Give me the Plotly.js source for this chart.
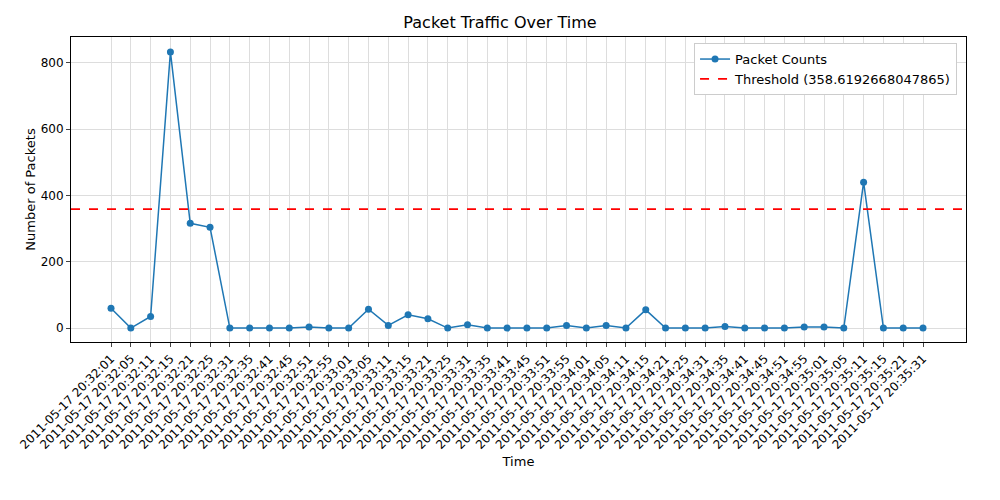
<!DOCTYPE html>
<html>
<head>
<script src="https://cdn.plot.ly/plotly-3.0.1.min.js"></script>
<style>body{margin:0}</style>
</head>
<body>
<div id="plot" style="width:1000px;height:500px"></div>
<script>
// Tick labels (one per point)
var times = ["20:32:01","20:32:05","20:32:11","20:32:15","20:32:21","20:32:25","20:32:31","20:32:35",
  "20:32:41","20:32:45","20:32:51","20:32:55","20:33:01","20:33:05","20:33:11","20:33:15","20:33:21",
  "20:33:25","20:33:31","20:33:35","20:33:41","20:33:45","20:33:51","20:33:55","20:34:01","20:34:05",
  "20:34:11","20:34:15","20:34:21","20:34:25","20:34:31","20:34:35","20:34:41","20:34:45","20:34:51",
  "20:34:55","20:35:01","20:35:05","20:35:11","20:35:15","20:35:21","20:35:31"].map(t => "2011-05-17 " + t);

// Packet counts
var counts = [60, 0, 35, 833, 316, 304, 0, 0, 0, 0, 3, 0, 0, 57, 8, 40, 28, 0, 10, 0, 0,
  0, 0, 8, 0, 8, 0, 55, 0, 0, 0, 5, 0, 0, 0, 3, 3, 0, 440, 0, 0, 0];

var threshold = 358.6192668047865;

var trace1 = {
  x: times,
  y: counts,
  name: "Packet Counts",
  type: "scatter",
  mode: "lines+markers",
  line: {color: "#1f77b4", width: 1.5},
  marker: {color: "#1f77b4", size: 7}
};

var layout = {
  margin: {l: 71, r: 34, t: 37, b: 158},
  paper_bgcolor: "white",
  plot_bgcolor: "white",
  font: {family: "DejaVu Sans", size: 12, color: "black"},
  title: {text: "Packet Traffic Over Time", font: {size: 16}, y: 0.955, yanchor: "middle"},
  showlegend: true,
  legend: {x: 0.99, y: 0.98, xanchor: "right", yanchor: "top",
    bordercolor: "#cccccc", borderwidth: 1, font: {size: 13}},
  xaxis: {
    type: "category",
    range: [-2.02, 43.17],
    tickangle: -45,
    ticks: "outside", ticklen: 4,
    showgrid: true, gridcolor: "#dddddd",
    showline: true, mirror: true, linecolor: "black",
    title: {text: "Time", standoff: 6, font: {size: 13}},
    automargin: false
  },
  yaxis: {
    range: [-42, 878],
    tickvals: [0, 200, 400, 600, 800],
    ticks: "outside", ticklen: 4,
    showgrid: true, gridcolor: "#dddddd",
    showline: true, mirror: true, linecolor: "black",
    zeroline: false,
    title: {text: "Number of Packets", font: {size: 13}}
  },
  shapes: [{
    type: "line", xref: "paper", x0: 0, x1: 1, yref: "y", y0: threshold, y1: threshold,
    line: {color: "red", width: 1.7, dash: "dash"},
    showlegend: true, name: "Threshold (" + threshold + ")"
  }]
};

Plotly.newPlot("plot", [trace1], layout, {displayModeBar: false});
</script>
</body>
</html>
